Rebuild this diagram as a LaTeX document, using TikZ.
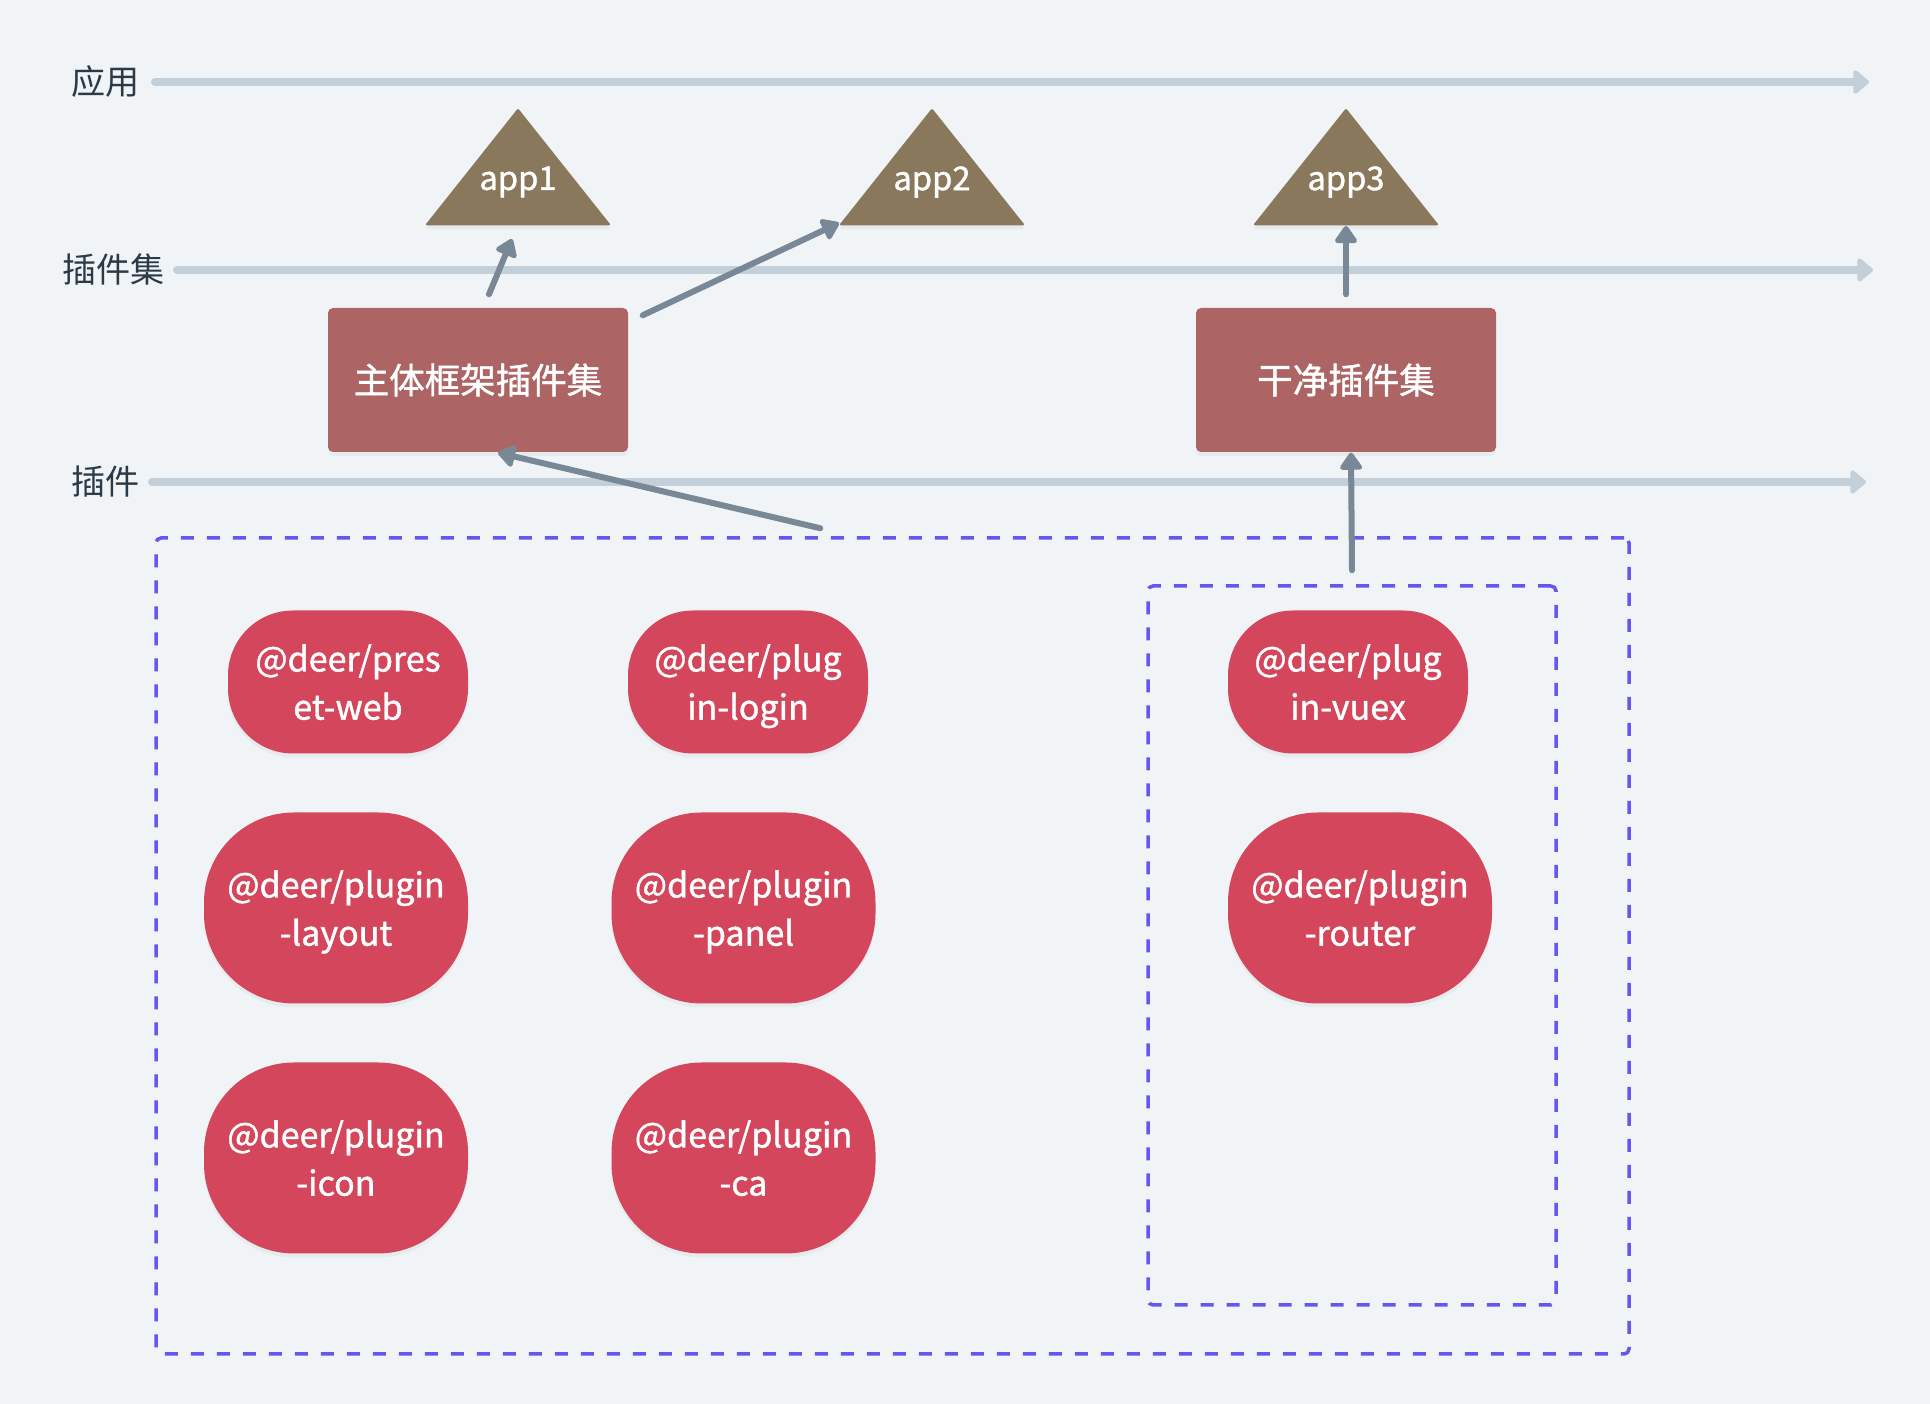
\documentclass[tikz,border=0pt]{standalone}
\usepackage{fontspec}
\setmainfont{Noto Sans CJK SC}
\newfontfamily\nodefont{Noto Sans CJK SC}[FakeBold=1.2]
\usepackage{xcolor}
\usetikzlibrary{positioning,arrows.meta,shapes.geometric,shadows}

\definecolor{bgcol}{HTML}{F0F4F7}
\definecolor{axiscol}{HTML}{C3CFD9}
\definecolor{labelcol}{HTML}{2B3A48}
\definecolor{appcol}{HTML}{8A785C}
\definecolor{setcol}{HTML}{AD6464}
\definecolor{plugcol}{HTML}{D4465B}
\definecolor{conncol}{HTML}{788896}
\definecolor{groupcol}{HTML}{6656F0}

\begin{document}
\begin{tikzpicture}[x=1cm,y=-1cm]
  \tikzstyle{axis}=[draw=axiscol,line width=0.08cm,line cap=round,-{Triangle[length=0.17cm,width=0.27cm,round]}]
  \tikzstyle{axislabel}=[text=labelcol,inner sep=0pt,font=\fontsize{9.7}{11}\selectfont]
  \tikzstyle{conn}=[draw=conncol,line width=0.06cm,line cap=round,-{Triangle[length=0.19cm,width=0.25cm,round]}]
  \tikzstyle{softshadow}=[drop shadow={shadow xshift=0cm,shadow yshift=-0.04cm,opacity=0.07}]
  \tikzstyle{app}=[isosceles triangle,isosceles triangle stretches,shape border rotate=90,
    minimum width=1.86cm,minimum height=1.17cm,inner sep=0pt,fill=appcol,anchor=south,
    rounded corners=0.02cm,softshadow]
  \tikzstyle{applabel}=[anchor=center,yshift=0.44cm,text=white,font=\nodefont\fontsize{9.3}{11}\selectfont]
  \tikzstyle{pluginset}=[rectangle,rounded corners=0.05cm,fill=setcol,text=white,
    minimum width=3cm,minimum height=1.44cm,softshadow,font=\nodefont\fontsize{10.1}{12}\selectfont]
  \tikzstyle{plugin}=[rectangle,rounded corners=0.65cm,fill=plugcol,text=white,align=center,
    minimum width=2.4cm,minimum height=1.43cm,inner sep=0pt,text depth=0pt,softshadow,
    font=\nodefont\fontsize{9.7}{13.7}\selectfont]
  \tikzstyle{bigplugin}=[plugin,rounded corners=0.9cm,minimum width=2.64cm,minimum height=1.91cm]
  \tikzstyle{group}=[draw=groupcol,line width=0.035cm,dash pattern=on 0.13cm off 0.13cm,
    rounded corners=0.05cm,inner sep=0pt]

  \useasboundingbox (0,0) rectangle (19.30,14.04);
  \fill[bgcol] (0,0) rectangle (19.30,14.04);

  % layers
  \coordinate (appS) at (1.55,0.82);  \coordinate (appE) at (18.69,0.82);
  \coordinate (setS) at (1.77,2.70);  \coordinate (setE) at (18.73,2.70);
  \coordinate (plugS) at (1.52,4.82); \coordinate (plugE) at (18.66,4.82);
  \draw[axis] (appS) -- (appE);
  \draw[axis] (setS) -- (setE);
  \draw[axis] (plugS) -- (plugE);
  \node[axislabel,left=0.15cm of appS] (lapp) {应用};
  \node[axislabel,left=0.12cm of setS] (lset) {插件集};
  \node[axislabel,left=0.12cm of plugS] (lplug) {插件};

  % groups
  \node[group,minimum width=14.73cm,minimum height=8.16cm] (outer) at (8.925,9.46) {};
  \node[group,minimum width=4.08cm,minimum height=7.19cm] (inner) at (13.52,9.455) {};

  % apps
  \node[app,label={[applabel]south:app1}] (app1) at (5.18,2.26) {};
  \node[app,label={[applabel]south:app2}] (app2) at (9.32,2.26) {};
  \node[app,label={[applabel]south:app3}] (app3) at (13.46,2.26) {};

  % plugin sets
  \node[pluginset] (mainset) at (4.78,3.80) {主体框架插件集};
  \node[pluginset] (cleanset) at (13.46,3.80) {干净插件集};

  % plugins
  \node[plugin] (preset) at (3.48,6.82) {@deer/pres\\et-web};
  \node[plugin] (login) at (7.48,6.82) {@deer/plug\\in-login};
  \node[bigplugin] (layout) at (3.36,9.08) {@deer/plugin\\-layout};
  \node[bigplugin] (panel) at (7.435,9.08) {@deer/plugin\\-panel};
  \node[bigplugin] (icon) at (3.36,11.58) {@deer/plugin\\-icon};
  \node[bigplugin] (ca) at (7.435,11.58) {@deer/plugin\\-ca};
  \node[plugin] (vuex) at (13.48,6.82) {@deer/plug\\in-vuex};
  \node[bigplugin] (router) at (13.60,9.08) {@deer/plugin\\-router};

  \draw[conn] ([xshift=0.11cm,yshift=0.13cm]mainset.north) -- ([xshift=-0.06cm,yshift=-0.13cm]app1.south);
  \draw[conn] ([xshift=0.14cm,yshift=-0.08cm]mainset.north east) -- ([xshift=-0.93cm,yshift=0.03cm]app2.south);
  \draw[conn] ([xshift=6.66cm,yshift=0.08cm]outer.north west) -- ([xshift=0.2cm]mainset.south);
  \draw[conn] ([yshift=0.13cm]cleanset.north) -- (app3.south);
  \draw[conn] ([yshift=0.14cm]inner.north) -- ([xshift=0.05cm]cleanset.south);
\end{tikzpicture}
\end{document}
